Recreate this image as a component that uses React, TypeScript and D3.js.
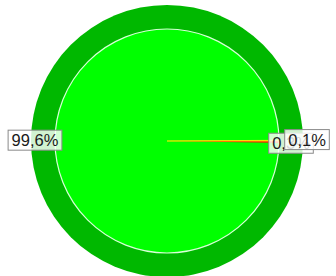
import React from "react";
import * as d3 from "d3";

const categories = ["B", "A", "C"];
const values = [0.3, 99.6, 0.1];
const labels = ["0,3%", "99,6%", "0,1%"];
const colors = ["#ff2000", "#00ff00", "#ffee00"];

const W = 336;
const H = 276;
const cx = 167;
const cy = 141;
const outerR = 136;
const pieR = 112;
const labelR = 132;
const fontSize = 16.5;

function textWidth(s: string) {
  const w: Record<string, number> = { ",": 0.278, "%": 0.889 };
  let t = 0;
  for (const c of s) t += (w[c] ?? 0.556) * fontSize;
  return t;
}

export default function App() {
  const pie = d3
    .pie<number>()
    .sort(null)
    .startAngle(Math.PI / 2)
    .endAngle(Math.PI / 2 + 2 * Math.PI);
  const arcs = pie(values);
  const arc = d3.arc<d3.PieArcDatum<number>>().innerRadius(0).outerRadius(pieR);
  const labelArc = d3
    .arc<d3.PieArcDatum<number>>()
    .innerRadius(labelR)
    .outerRadius(labelR);

  const pos = arcs.map((a) => labelArc.centroid(a));
  // simple collision spread for the two small slices on the right
  const small = [0, 2];
  pos[small[0]] = [pos[small[0]][0] - 8, pos[small[0]][1] + 1];
  pos[small[1]] = [pos[small[1]][0] + 8, pos[small[1]][1] - 1];
  const order = [1, 0, 2];

  return (
    <svg
      width={W}
      height={H}
      style={{ position: "absolute", left: 0, top: 0, background: "#fff" }}
    >
      <circle cx={cx} cy={cy} r={outerR} fill="#00b800" />
      <g transform={`translate(${cx},${cy})`}>
        {arcs.map((a, i) => (
          <path
            key={categories[i]}
            d={arc(a) || ""}
            fill={colors[i]}
            stroke={i === 1 ? "none" : colors[i]}
            strokeWidth={0.7}
          />
        ))}
        <circle r={pieR} fill="none" stroke="#d8ffd8" strokeWidth={1.2} />
        {order.map((i) => {
          const [x, y] = pos[i];
          const tw = textWidth(labels[i]);
          const bw = tw + 7;
          const bh = 20;
          return (
            <g key={"l" + i} transform={`translate(${x},${y})`}>
              <rect
                x={-bw / 2}
                y={-bh / 2}
                width={bw}
                height={bh}
                fill="#ffffff"
                fillOpacity={0.82}
                stroke="#8a8a8a"
                strokeWidth={1}
              />
              <text
                x={0}
                y={6}
                textAnchor="middle"
                fontFamily="Liberation Sans, Arial, sans-serif"
                fontSize={fontSize}
                fill="#1a1a1a"
              >
                {labels[i]}
              </text>
            </g>
          );
        })}
      </g>
    </svg>
  );
}
